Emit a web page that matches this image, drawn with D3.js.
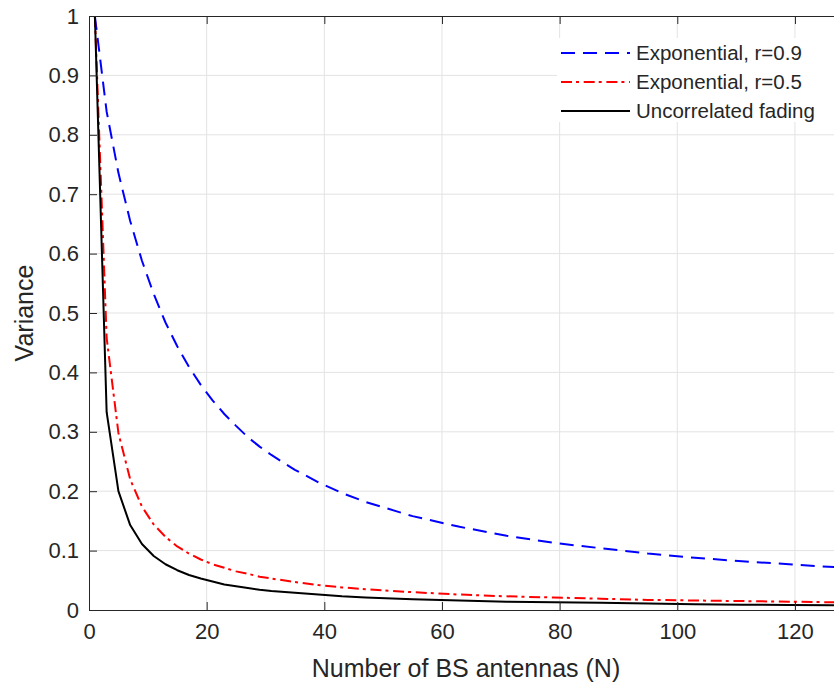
<!DOCTYPE html>
<html>

<head>
  <meta charset="UTF-8">
  <title>variance-vs-antennas</title>
  <style type="text/css">
    body { margin: 0; background: #fff; }
    text { font-family: "Liberation Sans", Arial, Helvetica, sans-serif; fill: #262626; }
    .grid line { stroke: #e3e3e3; stroke-width: 1px; }
    .series { fill: none; stroke-width: 2px; stroke-linejoin: round; }
  </style>
</head>

<body>
  <div class="svg-zone"></div>
  <script src="https://cdn.jsdelivr.net/npm/d3@7"></script>
  <script type="text/javascript">
    // number of BS antennas (odd N)
    var antennas = [1, 3, 5, 7, 9, 11, 13, 15, 17, 19, 21, 23, 25, 27, 29, 31,
      35, 39, 43, 47, 55, 63, 71, 79, 87, 95, 103, 111, 119, 127];

    var expR09 = [1, 0.839, 0.736, 0.655, 0.588, 0.532, 0.484, 0.444, 0.409, 0.379, 0.353, 0.330, 0.310, 0.291, 0.275, 0.261,
      0.236, 0.215, 0.197, 0.182, 0.158, 0.140, 0.125, 0.113, 0.104, 0.095, 0.088, 0.082, 0.077, 0.072];

    var expR05 = [1, 0.458, 0.298, 0.220, 0.174, 0.144, 0.123, 0.107, 0.095, 0.085, 0.077, 0.071, 0.065, 0.061, 0.056, 0.053,
      0.047, 0.042, 0.038, 0.035, 0.030, 0.026, 0.023, 0.021, 0.019, 0.017, 0.016, 0.015, 0.014, 0.013];

    var uncorrelated = [1, 0.333, 0.2, 0.143, 0.111, 0.091, 0.077, 0.067, 0.059, 0.053, 0.048, 0.043, 0.040, 0.037, 0.034, 0.032,
      0.029, 0.026, 0.023, 0.021, 0.018, 0.016, 0.014, 0.013, 0.012, 0.011, 0.0097, 0.0090, 0.0084, 0.0079];

    var xTicks = [0, 20, 40, 60, 80, 100, 120];
    var yTicks = [0, 0.1, 0.2, 0.3, 0.4, 0.5, 0.6, 0.7, 0.8, 0.9, 1];
    var yTickLabels = ["0", "0.1", "0.2", "0.3", "0.4", "0.5", "0.6", "0.7", "0.8", "0.9", "1"];

    var seriesNames = ["Exponential, r=0.9", "Exponential, r=0.5", "Uncorrelated fading"];
    var seriesColors = ["#0000ff", "#ff0000", "#000000"];
    var seriesDash = ["14,8", "11,4,3,4.7", null];

    var width = 834,
      height = 684,
      plotLeft = 89, plotTop = 16, plotBottom = 610, plotRight = 842;

    var x = d3.scaleLinear().domain([0, 128]).range([plotLeft, plotRight]),
      y = d3.scaleLinear().domain([0, 1]).range([plotBottom, plotTop]);

    var svg = d3.select(".svg-zone").append("svg")
      .attr("width", width)
      .attr("height", height);

    svg.append("defs").append("clipPath").attr("id", "plot-clip")
      .append("rect")
      .attr("x", plotLeft).attr("y", plotTop - 2)
      .attr("width", plotRight - plotLeft).attr("height", plotBottom - plotTop + 2);

    // grid
    var grid = svg.append("g").attr("class", "grid");
    grid.selectAll(".gx").data(xTicks.slice(1)).enter().append("line")
      .attr("x1", d => x(d)).attr("x2", d => x(d))
      .attr("y1", plotTop).attr("y2", plotBottom);
    grid.selectAll(".gy").data(yTicks.slice(1, -1)).enter().append("line")
      .attr("x1", plotLeft).attr("x2", plotRight)
      .attr("y1", d => y(d)).attr("y2", d => y(d));

    var line = d3.line()
      .x(function (d) { return x(d[0]); })
      .y(function (d) { return y(d[1]); });

    var allSeries = [expR09, expR05, uncorrelated];
    var plot = svg.append("g").attr("clip-path", "url(#plot-clip)");
    allSeries.forEach(function (vals, i) {
      plot.append("path")
        .datum(antennas.map(function (n, j) { return [n, vals[j]]; }))
        .attr("class", "series")
        .attr("stroke", seriesColors[i])
        .attr("stroke-dasharray", seriesDash[i])
        .attr("d", line);
    });

    // axes (ticks point inward)
    var axisColor = "#262626";
    var xAxis = svg.append("g").attr("transform", "translate(0," + plotBottom + ")")
      .call(d3.axisBottom(x).tickValues(xTicks).tickSize(-8).tickPadding(13).tickFormat(d3.format("d")));
    var xTop = svg.append("g").attr("transform", "translate(0," + plotTop + ")")
      .call(d3.axisTop(x).tickValues(xTicks).tickSize(-8).tickFormat(""));
    var yAxis = svg.append("g").attr("transform", "translate(" + plotLeft + ",0)")
      .call(d3.axisLeft(y).tickValues(yTicks).tickSize(-8).tickPadding(10)
        .tickFormat(function (d, i) { return yTickLabels[i]; }));

    [xAxis, xTop, yAxis].forEach(function (g) {
      g.selectAll(".domain").attr("stroke", axisColor).attr("stroke-width", 1);
      g.selectAll(".tick line").attr("stroke", axisColor);
      g.selectAll(".tick text").attr("fill", axisColor)
        .style("font-size", "22px").attr("font-family", null);
    });
    xAxis.selectAll(".domain").attr("d", "M" + plotLeft + ",0.5H" + plotRight);
    xTop.selectAll(".domain").attr("d", "M" + plotLeft + ",0.5H" + plotRight);
    yAxis.selectAll(".domain").attr("d", "M0.5," + plotTop + "V" + plotBottom);

    // axis labels
    svg.append("text")
      .attr("x", 466).attr("y", 677)
      .attr("text-anchor", "middle")
      .style("font-size", "25px")
      .text("Number of BS antennas (N)");

    svg.append("text")
      .attr("transform", "translate(33,313) rotate(-90)")
      .attr("text-anchor", "middle")
      .style("font-size", "25px")
      .text("Variance");

    // legend
    var legend = svg.append("g");
    legend.append("rect")
      .attr("x", 557).attr("y", 38)
      .attr("width", 290).attr("height", 84)
      .attr("fill", "#fff");
    seriesNames.forEach(function (name, i) {
      var ly = 53 + i * 29;
      legend.append("line")
        .attr("x1", 561).attr("x2", 630)
        .attr("y1", ly).attr("y2", ly)
        .attr("stroke", seriesColors[i])
        .attr("stroke-width", 2)
        .attr("stroke-dasharray", seriesDash[i]);
      legend.append("text")
        .attr("x", 636).attr("y", ly)
        .attr("dy", "0.35em")
        .style("font-size", "20.5px")
        .text(name);
    });
  </script>

</body>

</html>
